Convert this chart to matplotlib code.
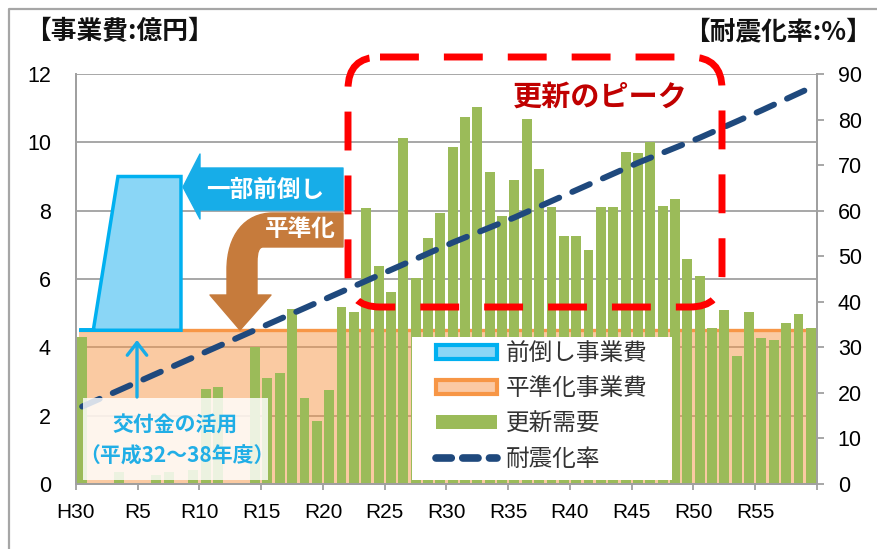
import numpy as np
import matplotlib.pyplot as plt
from matplotlib.patches import Polygon, Rectangle, FancyBboxPatch, Patch, PathPatch, FancyArrowPatch
from matplotlib.lines import Line2D
from matplotlib.path import Path
from matplotlib.transforms import Affine2D

JP = ['Noto Sans CJK JP', 'DejaVu Sans']
NUM = ['Liberation Sans', 'DejaVu Sans']

# data
categories = ["H30"] + ["R%d" % n for n in range(1, 60)]
koshin_juyo = [4.30, 0.0, 0.0, 0.35, 0.0, 0.0, 0.25, 0.35, 0.0, 0.40,
               2.78, 2.85, 0.0, 0.0, 4.02, 3.10, 3.26, 5.12, 2.53, 1.84,
               2.75, 5.19, 5.02, 8.09, 6.38, 5.61, 10.13, 6.02, 7.19, 7.94,
               9.87, 10.75, 11.04, 9.12, 7.84, 8.90, 10.67, 9.21, 8.12, 7.27,
               7.27, 6.85, 8.10, 8.10, 9.73, 9.70, 10.02, 8.14, 8.34, 6.60,
               6.10, 4.57, 5.09, 3.75, 5.02, 4.28, 4.21, 4.70, 4.97, 4.58]
heijun_x = [-0.25, 59.5]
heijun_y = [4.5, 4.5]
maedaoshi_x = [-0.25, 0.9, 2.9, 8.0, 8.0]
maedaoshi_y = [4.5, 4.5, 9.0, 9.0, 4.5]
taishin_years = ["H30", "R5", "R10", "R15", "R20", "R25", "R30", "R35",
                 "R40", "R45", "R50", "R55", "R59"]
taishin_rate = [17, 23, 29, 35, 41, 47, 53, 58.5, 64.5, 70.5, 76, 82, 87]
tick_labels = ["H30", "R5", "R10", "R15", "R20", "R25", "R30", "R35",
               "R40", "R45", "R50", "R55"]

GRAY = '#a0a0a0'
GREEN = '#9bbb59'
ORANGE = '#f79646'
SKY = '#00b0f0'
NAVY = '#1f497d'

fig = plt.figure(figsize=(8.78, 5.49), dpi=100)
# reference-pixel transform for the hand-drawn decorations
T = Affine2D().scale(0.01, -0.01).translate(0, 5.49) + fig.dpi_scale_trans

ax = fig.add_axes([76 / 878, 1 - 484 / 549, (817 - 76) / 878, (484 - 74) / 549])
xpos = np.arange(len(categories))

ax.fill_between(heijun_x, 0, heijun_y, color=ORANGE, alpha=0.5, lw=0, zorder=1)
ax.plot(heijun_x, heijun_y, color=ORANGE, lw=2.4, zorder=1.5, solid_capstyle='butt')
ax.bar(xpos, koshin_juyo, width=0.8, color=GREEN, zorder=2)
ax.fill(maedaoshi_x, maedaoshi_y, facecolor='#8ad6f6', edgecolor=SKY, lw=2.5,
        zorder=3, joinstyle='miter')

ax.set_xlim(-0.5, 59.5)
ax.set_ylim(0, 12)
ax.set_yticks(range(0, 13, 2))
ax.set_xticks([categories.index(c) - 0.5 for c in tick_labels] + [59.5])
ax.set_xticklabels(tick_labels + [""])
ax.yaxis.grid(True, color=GRAY, lw=1.3)
ax.set_axisbelow(True)
ax.tick_params(axis='x', direction='out', length=4, color=GRAY, width=1.3,
               labelsize=15, pad=9.5)
ax.tick_params(axis='y', length=0, labelsize=15.5, pad=18)
for lab in ax.get_xticklabels() + ax.get_yticklabels():
    lab.set_family(NUM)

ax2 = ax.twinx()
tx = [categories.index(c) for c in taishin_years]
ax2.plot(tx, taishin_rate, color=NAVY, lw=4.3, ls=(0, (3.2, 2.4)),
         dash_capstyle='round')
ax2.set_ylim(0, 90)
ax2.set_yticks(range(0, 91, 10))
ax2.tick_params(axis='y', direction='out', length=5, color=GRAY, width=1.3,
                labelsize=15.5, pad=10)
for lab in ax2.get_yticklabels():
    lab.set_family(NUM)

for a in (ax, ax2):
    a.spines['top'].set_visible(False)
    for s in ('left', 'right', 'bottom'):
        a.spines[s].set_color(GRAY)
        a.spines[s].set_linewidth(1.3)

# legend: white panel plus a frameless legend inside it
ax2.add_patch(Rectangle((412, 337), 260, 143, transform=T, facecolor='white',
                        edgecolor='none', zorder=4))
handles = [
    Patch(facecolor='#8ad6f6', edgecolor=SKY, lw=3),
    Patch(facecolor='#fbc9a4', edgecolor=ORANGE, lw=3),
    Patch(facecolor=GREEN, edgecolor='none'),
    Line2D([], [], color=NAVY, lw=5.5, ls=(0, (2.0, 1.5)), dash_capstyle='round'),
]
leg = ax2.legend(handles, ["前倒し事業費", "平準化事業費", "更新需要", "耐震化率"],
                 loc='upper left', bbox_to_anchor=(436 / 878, 1 - 342 / 549),
                 bbox_transform=fig.transFigure, borderaxespad=0, borderpad=0,
                 frameon=False, prop={'family': JP, 'size': 17},
                 handlelength=2.6, handleheight=0.55, labelspacing=0.52,
                 handletextpad=0.35)
leg.set_zorder(5)
for t in leg.get_texts():
    t.set_color('#333333')

# outer frame
fig.add_artist(Line2D([9, 9, 878], [549, 9, 9], transform=T, color='#a6a6a6', lw=1.6))

# axis titles
fig.text(25, 32, "【事業費:億円】", transform=T, ha='left', va='center',
         fontsize=18.5, fontweight='bold', family=JP, color='#111111')
fig.text(872, 32, "【耐震化率:%】", transform=T, ha='right', va='center',
         fontsize=18.5, fontweight='bold', family=JP, color='#111111')

# peak highlight
fig.add_artist(FancyBboxPatch((348, 57), 374, 250, boxstyle='round,pad=0,rounding_size=32',
                              transform=T, fill=False, edgecolor='#ff0000', lw=5,
                              ls=(0, (5.6, 3.6))))
fig.text(600, 97, "更新のピーク", transform=T, ha='center', va='center',
         fontsize=21, fontweight='bold', family=JP, color='#c00000')

# blue arrow "一部前倒し"
blue_arrow = [(183, 187), (200, 154), (200, 168), (343, 168), (343, 210),
              (200, 210), (200, 219)]
fig.add_artist(Polygon(blue_arrow, closed=True, transform=T, facecolor='#17ade8',
                       edgecolor='#17ade8', lw=1, joinstyle='round'))
fig.text(265, 190, "一部前倒し", transform=T, ha='center', va='center',
         fontsize=17, fontweight='bold', family=JP, color='white')

# brown curved arrow "平準化"
verts = [(343, 213), (273, 213), (245, 213), (227, 235), (227, 270),
         (227, 295), (210, 295), (240, 330), (271, 295), (257, 295),
         (257, 262), (257, 252), (259, 247), (263, 247), (343, 247), (343, 213)]
codes = [Path.MOVETO, Path.LINETO, Path.CURVE4, Path.CURVE4, Path.CURVE4,
         Path.LINETO, Path.LINETO, Path.LINETO, Path.LINETO, Path.LINETO,
         Path.LINETO, Path.CURVE4, Path.CURVE4, Path.CURVE4, Path.LINETO,
         Path.CLOSEPOLY]
fig.add_artist(PathPatch(Path(verts, codes), transform=T, facecolor='#c67b3c',
                         edgecolor='#c67b3c', lw=1, joinstyle='round'))
fig.text(300, 229, "平準化", transform=T, ha='center', va='center',
         fontsize=17, fontweight='bold', family=JP, color='white')

# grant note box
fig.add_artist(Rectangle((83, 398), 185, 82, transform=T, facecolor='white',
                         edgecolor='none', alpha=0.82))
fig.add_artist(FancyArrowPatch((137, 397), (137, 340), transform=T,
                               arrowstyle='->,head_length=0.45,head_width=0.35',
                               mutation_scale=20, color='#17ade8', lw=2.4,
                               shrinkA=0, shrinkB=0))
fig.text(175, 425, "交付金の活用", transform=T, ha='center', va='center',
         fontsize=15, fontweight='bold', family=JP, color='#21aee6')
fig.text(177, 456, "（平成32～38年度）", transform=T, ha='center', va='center',
         fontsize=15, fontweight='bold', family=JP, color='#21aee6')

fig.savefig('out.png', dpi=100)
